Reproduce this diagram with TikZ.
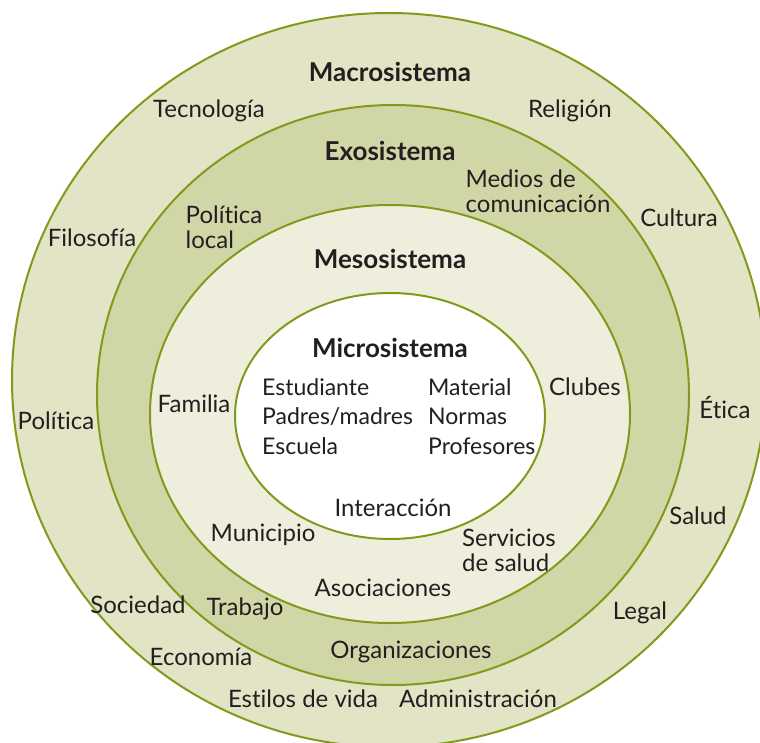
\documentclass[tikz,border=0pt]{standalone}
\usepackage{fontspec}
\setmainfont{Lato}[Ligatures={NoCommon}]
\definecolor{ringline}{RGB}{128,155,27}
\definecolor{macrofill}{RGB}{227,227,197}
\definecolor{exofill}{RGB}{209,214,166}
\definecolor{mesofill}{RGB}{239,238,221}
\definecolor{inktext}{RGB}{35,31,32}
\tikzset{
  ring/.style={draw=ringline, line width=2pt},
  lbl/.style={text=inktext, inner sep=0pt, font=\fontsize{24}{25}\selectfont},
  ttl/.style={lbl, font=\fontsize{26}{28}\selectfont\bfseries},
}
\begin{document}
\begin{tikzpicture}[x=1pt, y=-1pt]
  \useasboundingbox (0,0) rectangle (760,743);
  % the four systems, outside in
  \fill[macrofill] (389,380) ellipse [x radius=377, y radius=367];
  \draw[ring] (389,380) ellipse [x radius=377, y radius=367];
  \filldraw[ring, fill=exofill] (393,395) ellipse [x radius=296, y radius=290];
  \filldraw[ring, fill=mesofill] (390,414) ellipse [x radius=240, y radius=209];
  \filldraw[ring, fill=white] (390,416) ellipse [x radius=155, y radius=123];
  % titles
  \foreach \nm/\px/\py/\txt in {macro/390/72/Macrosistema, exo/390/151/Exosistema, meso/390/259/Mesosistema, micro/390/348/Microsistema}
    {\node[ttl] (\nm) at (\px,\py) {\txt};}
  % macrosistema
  \foreach \nm/\px/\py/\txt in {tec/209/111/Tecnología, rel/570/111/Religión, fil/92/238/Filosofía, cul/679/218/Cultura, pol/56/421/Política, eti/725/407/Ética, sal/698/516/Salud, soc/138/605/Sociedad, leg/640/613/Legal, eco/201/657/Economía, est/303/699/Estilos de vida, adm/478/699/Administración}
    {\node[lbl] (\nm) at (\px,\py) {\txt};}
  % exosistema
  \node[lbl, align=left] (polloc) at (224,227) {Política\\local};
  \node[lbl, align=left] (medios) at (538,191) {Medios de\\comunicación};
  \node[lbl] (trab) at (245,609) {Trabajo};
  \node[lbl] (org) at (411,652) {Organizaciones};
  % mesosistema
  \foreach \nm/\px/\py/\txt in {fam/194/404/Familia, clu/585/387/Clubes, mun/263/535/Municipio, aso/383/588/Asociaciones}
    {\node[lbl] (\nm) at (\px,\py) {\txt};}
  \node[lbl, align=left] (serv) at (509,550) {Servicios\\de salud};
  % microsistema
  \node[lbl, align=left, anchor=north west, font=\fontsize{23}{29.5}\selectfont] (colA) at (262,378) {Estudiante\\Padres/madres\\Escuela};
  \node[lbl, align=left, anchor=north west, font=\fontsize{23}{29.5}\selectfont] (colB) at (428,378) {Material\\Normas\\Profesores};
  \node[lbl] (inter) at (393,508) {Interacción};
\end{tikzpicture}
\end{document}
